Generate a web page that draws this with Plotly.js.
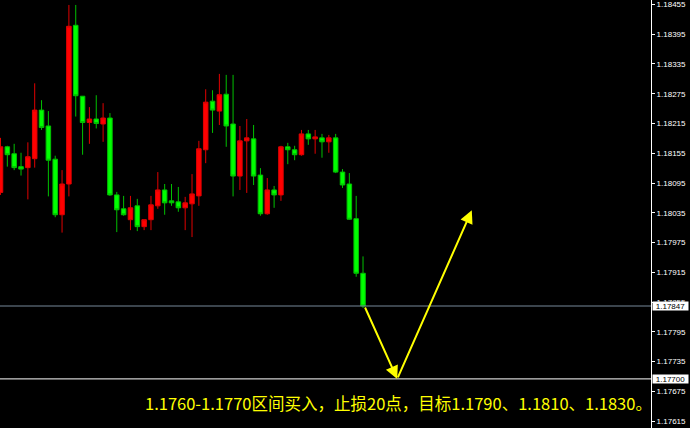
<!DOCTYPE html>
<html>
<head>
<meta charset="utf-8">
<script src="https://cdn.plot.ly/plotly-3.0.1.min.js"></script>
<style>
html,body{margin:0;padding:0;background:#000;}
#chart{width:690px;height:428px;}
</style>
</head>
<body>
<div id="chart"></div>
<script>
// ---- data ----
const openP  = [1.18076,1.18168,1.18154,1.18128,1.18126,1.18144,1.18242,1.18210,1.18143,1.18031,
                1.18093,1.18413,1.18270,1.18217,1.18224,1.18214,1.18226,1.18071,1.18043,1.18021,
                1.18049,1.18007,1.18021,1.18049,1.18081,1.18059,1.18057,1.18045,1.18053,1.18069,
                1.18162,1.18260,1.18240,1.18274,1.18214,1.18109,1.18180,1.18184,1.18111,1.18033,
                1.18081,1.18071,1.18168,1.18162,1.18152,1.18194,1.18184,1.18186,1.18178,1.18186,
                1.18117,1.18093,1.18023,1.17913];
const highP  = [1.18186,1.18170,1.18174,1.18156,1.18177,1.18296,1.18262,1.18240,1.18150,1.18121,
                1.18454,1.18454,1.18270,1.18248,1.18272,1.18256,1.18236,1.18077,1.18069,1.18069,
                1.18063,1.18021,1.18069,1.18117,1.18093,1.18093,1.18087,1.18067,1.18113,1.18180,
                1.18284,1.18282,1.18315,1.18313,1.18313,1.18210,1.18224,1.18212,1.18125,1.18105,
                1.18089,1.18170,1.18176,1.18170,1.18202,1.18202,1.18202,1.18194,1.18192,1.18194,
                1.18123,1.18115,1.18069,1.17947];
const lowP   = [1.18071,1.18128,1.18121,1.18110,1.18062,1.18126,1.18202,1.18068,1.18026,1.17995,
                1.18068,1.18229,1.18152,1.18174,1.18205,1.18178,1.18069,1.17996,1.18029,1.18000,
                1.17998,1.18000,1.18000,1.18043,1.18031,1.18049,1.18037,1.18000,1.17986,1.18049,
                1.18135,1.18196,1.18212,1.18168,1.18068,1.18081,1.18075,1.18091,1.18029,1.18031,
                1.18045,1.18059,1.18133,1.18141,1.18150,1.18172,1.18154,1.18146,1.18156,1.18115,
                1.18085,1.18021,1.17906,1.17843];
const closeP = [1.18168,1.18152,1.18126,1.18123,1.18148,1.18242,1.18207,1.18141,1.18031,1.18093,
                1.18411,1.18271,1.18217,1.18224,1.18215,1.18226,1.18071,1.18041,1.18031,1.18045,
                1.18007,1.18021,1.18051,1.18081,1.18055,1.18055,1.18045,1.18055,1.18073,1.18164,
                1.18258,1.18242,1.18273,1.18210,1.18109,1.18180,1.18186,1.18109,1.18033,1.18081,
                1.18071,1.18168,1.18162,1.18152,1.18194,1.18184,1.18188,1.18178,1.18186,1.18117,
                1.18091,1.18022,1.17913,1.17847];
const barIndex = openP.map((_, i) => i);

const priceLabels = ["1.18455","1.18395","1.18335","1.18275","1.18215","1.18155","1.18095","1.18035",
                     "1.17975","1.17915","1.17855","1.17795","1.17735","1.17675","1.17615"];
const bidLevel = 1.17847;
const entryLevel = 1.17700;
const levelLabels = ["1.17847", "1.17700"];

// planned path (V shape) : start at last close, dip, then target
const pathX = [53.2, 58.0, 68.9];
const pathY = [1.17847, 1.17700, 1.18040];

const noteText = "1.1760-1.1770区间买入，止损20点，目标1.1790、1.1810、1.1830。";

// ---- chart ----
const trace = {
  type: 'candlestick',
  x: barIndex,
  open: openP, high: highP, low: lowP, close: closeP,
  increasing: {fillcolor: '#FF0000', line: {color: '#E00000', width: 1}},
  decreasing: {fillcolor: '#00FF00', line: {color: '#00C000', width: 1}},
  whiskerwidth: 0,
  hoverinfo: 'skip',
  showlegend: false
};

const annotations = [];
// highlighted price labels on the axis
[bidLevel, entryLevel].forEach((lv, k) => {
  annotations.push({
    xref: 'paper', yref: 'y', x: 1, y: lv, xanchor: 'left', yanchor: 'middle', xshift: 1,
    text: levelLabels[k], showarrow: false, bgcolor: '#FFFFFF', borderpad: 0,
    width: 35, height: 8, align: 'center',
    font: {family: 'Liberation Sans, Arial, sans-serif', size: 8, color: '#000000'}
  });
});
// arrows
for (let k = 1; k < pathX.length; k++) {
  annotations.push({
    xref: 'x', yref: 'y', axref: 'x', ayref: 'y',
    x: pathX[k], y: pathY[k], ax: pathX[k-1], ay: pathY[k-1],
    text: '', showarrow: true, arrowhead: 2, arrowsize: 1.3, arrowwidth: 2,
    arrowcolor: '#FFFF00', standoff: 0, startstandoff: 0
  });
}
// note
annotations.push({
  xref: 'paper', yref: 'paper', x: 143/651, y: 25/428, xanchor: 'left', yanchor: 'middle',
  text: noteText, showarrow: false,
  font: {family: 'Noto Sans CJK SC, sans-serif', size: 16.5, color: '#FFFF00'}
});

const layout = {
  width: 690, height: 428,
  margin: {l: 0, r: 39, t: 0, b: 0, pad: 0},
  paper_bgcolor: '#000000', plot_bgcolor: '#000000',
  showlegend: false,
  boxgap: 0.34, boxgroupgap: 0,
  xaxis: {range: [-0.073, 95.1], visible: false, rangeslider: {visible: false}, fixedrange: true},
  yaxis: {
    side: 'right', range: [1.17601, 1.18464], autorange: false,
    tickvals: priceLabels.map(Number), ticktext: priceLabels,
    showgrid: false, zeroline: false,
    showline: true, linecolor: '#FFFFFF', linewidth: 1, mirror: false,
    ticks: 'outside', ticklen: 3, tickcolor: '#FFFFFF', tickwidth: 1,
    tickfont: {family: 'Liberation Sans, Arial, sans-serif', size: 8, color: '#FFFFFF'},
    fixedrange: true
  },
  shapes: [
    {type: 'line', xref: 'paper', yref: 'y', x0: 0, x1: 1, y0: bidLevel, y1: bidLevel,
     line: {color: '#778899', width: 1}},
    {type: 'line', xref: 'paper', yref: 'y', x0: 0, x1: 1, y0: entryLevel, y1: entryLevel,
     line: {color: '#FFFFFF', width: 1}}
  ],
  annotations: annotations
};

Plotly.newPlot('chart', [trace], layout, {displayModeBar: false, staticPlot: true});
</script>
</body>
</html>
